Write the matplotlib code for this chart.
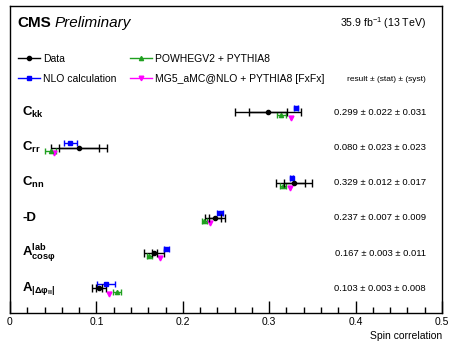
import matplotlib
matplotlib.use("Agg")
import matplotlib.pyplot as plt
from matplotlib.lines import Line2D
import numpy as np

plt.rcParams["font.family"] = ["Liberation Sans", "DejaVu Sans"]
plt.rcParams["mathtext.fontset"] = "custom"
plt.rcParams["mathtext.rm"] = "Liberation Sans"
plt.rcParams["mathtext.bf"] = "Liberation Sans:bold"
plt.rcParams["mathtext.it"] = "Liberation Sans:italic"

# observables, top to bottom
labels = [r"$\mathbf{C_{kk}}$", r"$\mathbf{C_{rr}}$", r"$\mathbf{C_{nn}}$",
          "-D", r"$\mathbf{A^{lab}_{cos\varphi}}$",
          r"$\mathbf{A_{|\Delta\varphi_{ll}|}}$"]

# measured values
data_val = [0.299, 0.080, 0.329, 0.237, 0.167, 0.103]
data_stat = [0.022, 0.023, 0.012, 0.007, 0.003, 0.003]
data_syst = [0.031, 0.023, 0.017, 0.009, 0.011, 0.008]

# predictions
nlo_val = [0.331, 0.070, 0.326, 0.243, 0.181, 0.111]
nlo_err = [0.002, 0.007, 0.002, 0.003, 0.003, 0.010]
powheg_val = [0.314, 0.047, 0.316, 0.225, 0.161, 0.124]
powheg_err = [0.005, 0.006, 0.003, 0.003, 0.003, 0.005]
mg5_val = [0.325, 0.051, 0.324, 0.232, 0.174, 0.115]

data_val = np.array(data_val)
data_stat = np.array(data_stat)
data_tot = np.sqrt(data_stat**2 + np.array(data_syst)**2)

green = "#1fa01f"
y = -np.arange(len(labels), dtype=float)

fig = plt.figure(figsize=(4.52, 3.46), dpi=100)
ax = fig.add_axes([10/452, 1-313/346, 432/452, 307/346])

# data: total and stat error bars, both with end ticks
ax.errorbar(data_val, y, xerr=data_tot, fmt="none", ecolor="black", elinewidth=1,
            capsize=3.2, capthick=1)
ax.errorbar(data_val, y, xerr=data_stat, fmt="o", color="black", ms=3,
            elinewidth=1, capsize=3.2, capthick=1, zorder=5)

ax.errorbar(nlo_val, y + 0.13, xerr=nlo_err, fmt="s", color="blue", ms=3.3,
            elinewidth=1, capsize=2, capthick=1)
ax.errorbar(powheg_val, y - 0.09, xerr=powheg_err, fmt="^", color=green, ms=3,
            elinewidth=1, capsize=2, capthick=1)
ax.plot(mg5_val, y - 0.15, "v", color="magenta", ms=3.5, ls="none")

ax.set_xlim(0, 0.5)
ax.set_ylim(-5.70, 3.02)
ax.set_yticks([])
ax.set_xticks(np.arange(0, 0.51, 0.1))
ax.set_xticks(np.arange(0, 0.51, 0.02), minor=True)
ax.set_xticklabels(["0", "0.1", "0.2", "0.3", "0.4", "0.5"])
ax.tick_params(axis="x", which="major", direction="in", length=9, width=1,
               labelsize=7.5, pad=3)
ax.tick_params(axis="x", which="minor", direction="in", length=4.5, width=1)
for s in ax.spines.values():
    s.set_linewidth(1)
ax.set_xlabel("Spin correlation", fontsize=7.5, loc="right", labelpad=3)

for yi, lab, v, st, sy in zip(y, labels, data_val, data_stat, data_syst):
    ax.text(0.014, yi, lab, fontsize=9.5, fontweight="bold", va="center", ha="left")
    ax.text(0.4815, yi, f"{v:.3f} ± {st:.3f} ± {sy:.3f}", fontsize=6.8,
            va="center", ha="right")

# header
ax.text(0.018, 0.945, "CMS", transform=ax.transAxes, fontsize=11,
        fontweight="bold", va="center")
ax.text(0.104, 0.945, "Preliminary", transform=ax.transAxes, fontsize=11,
        fontstyle="italic", va="center")
ax.text(0.963, 0.945, r"35.9 fb$^{-1}$ (13 TeV)", transform=ax.transAxes,
        fontsize=7.6, ha="right", va="center")
ax.text(0.963, 0.762, "result ± (stat) ± (syst)", transform=ax.transAxes,
        fontsize=6, ha="right", va="center")

handles = [
    Line2D([], [], color="black", marker="o", ms=3, lw=1),
    Line2D([], [], color="blue", marker="s", ms=3.3, lw=1),
    Line2D([], [], color=green, marker="^", ms=3, lw=1),
    Line2D([], [], color="magenta", marker="v", ms=3.3, lw=1),
]
names = ["Data", "NLO calculation", "POWHEGV2 + PYTHIA8",
         "MG5_aMC@NLO + PYTHIA8 [FxFx]"]
ax.legend(handles, names, ncol=2, frameon=False, fontsize=7.5,
          loc="upper left", bbox_to_anchor=(0.01, 0.857),
          handlelength=2.1, handletextpad=0.3, columnspacing=1.3,
          labelspacing=0.92, borderaxespad=0)

fig.savefig("out.png", dpi=100)
